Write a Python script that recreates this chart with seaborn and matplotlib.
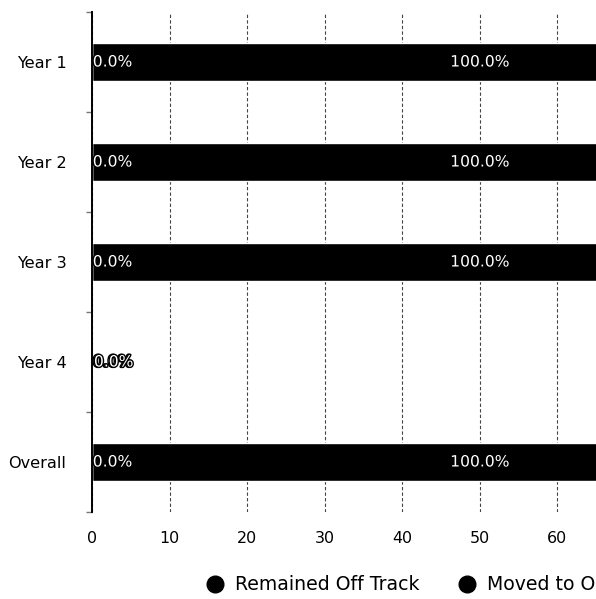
import matplotlib
matplotlib.use("Agg")
import matplotlib.pyplot as plt
import matplotlib.patheffects as pe
from matplotlib.lines import Line2D
from matplotlib.ticker import FixedLocator
import numpy as np
import pandas as pd
import seaborn as sns

# Share of off-track students by cohort year
groups = ["Year 1", "Year 2", "Year 3", "Year 4", "Overall"]
remained_off_track = [0.0, 0.0, 0.0, 0.0, 0.0]
moved_to_on_track = [100.0, 100.0, 100.0, 0.0, 100.0]
series_names = ["Remained Off Track", "Moved to On Track"]
x_ticks = [0, 10, 20, 30, 40, 50, 60]

df = pd.DataFrame({
    "group": groups,
    "remained": remained_off_track,
    "moved": moved_to_on_track,
})
df["total"] = df["remained"] + df["moved"]

sns.set_theme(style="white")
plt.rcParams["font.family"] = ["DejaVu Sans"]

fig = plt.figure(figsize=(5.96, 5.99), dpi=100)
ax = fig.add_axes([92 / 596, 1 - 512 / 599, 775 / 596, 500 / 599])

bar_color = "#000000"
# stacked bars: full total first, then the first segment over it
sns.barplot(data=df, x="total", y="group", order=groups, orient="h",
            color=bar_color, width=0.38, saturation=1, ax=ax, zorder=2)
sns.barplot(data=df, x="remained", y="group", order=groups, orient="h",
            color=bar_color, width=0.38, saturation=1, ax=ax, zorder=3)

ax.set_xlim(0, 100)
ax.set_ylim(4.5, -0.5)
ax.set_xticks(x_ticks)
ax.set_xlabel("")
ax.set_ylabel("")

ax.grid(axis="x", color="#444444", linestyle=(0, (3, 2)), linewidth=0.8)
ax.grid(axis="y", visible=False)
ax.set_axisbelow(True)

for side in ["top", "right", "bottom"]:
    ax.spines[side].set_visible(False)
ax.spines["left"].set_color("black")
ax.spines["left"].set_linewidth(1.4)
ax.spines["left"].set_zorder(5)

ax.tick_params(axis="x", length=0, pad=14, labelsize=11.4, labelcolor="black")
ax.tick_params(axis="y", length=0, pad=18.5, labelsize=11.6, labelcolor="black")
ax.yaxis.set_minor_locator(FixedLocator(np.arange(-0.5, 5.0, 1.0)))
ax.tick_params(axis="y", which="minor", length=4, width=1, color="#777777", left=True)

# segment value labels
stroke = [pe.withStroke(linewidth=2, foreground="black")]
for i, g in enumerate(groups):
    start = 0.0
    for k, val in enumerate([remained_off_track[i], moved_to_on_track[i]]):
        if val == 0:
            xpos, ha = start + 0.1 + 0.15 * k, "left"
        else:
            xpos, ha = start + val / 2, "center"
        ax.text(xpos, i, f"{val:.1f}%", ha=ha, va="center", color="white",
                fontsize=11.2, zorder=6, path_effects=stroke)
        start += val

handles = [Line2D([0], [0], marker="o", linestyle="none", markersize=12,
                  markerfacecolor="black", markeredgecolor="black")
           for _ in series_names]
fig.legend(handles, series_names, loc="center left",
           bbox_to_anchor=(189 / 596, 1 - 585 / 599), ncol=2, frameon=False,
           fontsize=13.6, handletextpad=0.55, columnspacing=2.0,
           handlelength=1.0, labelcolor="black")

fig.savefig("out.png", dpi=100)
